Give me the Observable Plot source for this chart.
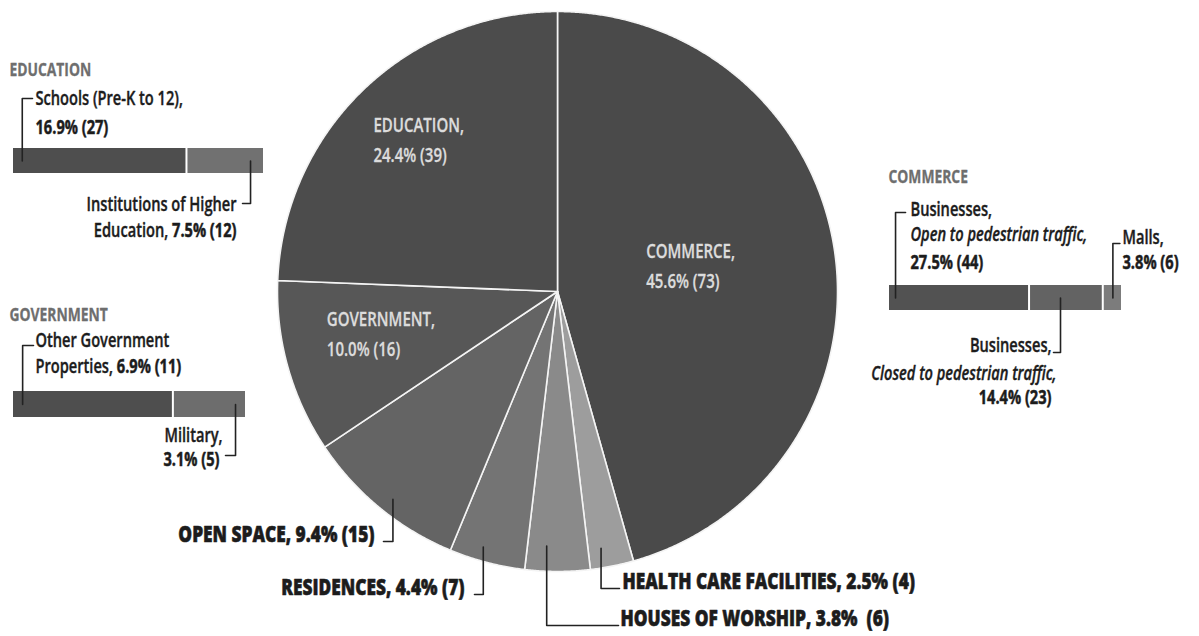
<!DOCTYPE html>
<html><head><meta charset="utf-8">
<script src="https://cdn.jsdelivr.net/npm/d3@7"></script>
<script src="https://cdn.jsdelivr.net/npm/@observablehq/plot@0.6"></script>
<style>
html,body{margin:0;padding:0;background:#fff;}
#chart{width:1199px;height:636px;overflow:hidden;}
</style>
</head><body><div id="chart"></div>
<script>
// ---------- DATA ----------
const sectors = ["COMMERCE","HEALTH CARE FACILITIES","HOUSES OF WORSHIP","RESIDENCES","OPEN SPACE","GOVERNMENT","EDUCATION"];
const sectorCounts = [73, 4, 6, 7, 15, 16, 39];
const sectorPercents = ["45.6%","2.5%","3.8%","4.4%","9.4%","10.0%","24.4%"];

const educationParts = ["Schools (Pre-K to 12),", "Institutions of Higher Education,"];
const educationCounts = [27, 12];
const educationPercents = ["16.9%", "7.5%"];

const governmentParts = ["Other Government Properties,", "Military,"];
const governmentCounts = [11, 5];
const governmentPercents = ["6.9%", "3.1%"];

const commerceParts = ["Businesses, Open to pedestrian traffic,", "Businesses, Closed to pedestrian traffic,", "Malls,"];
const commerceCounts = [44, 23, 6];
const commercePercents = ["27.5%", "14.4%", "3.8%"];

// ---------- STYLE / LAYOUT ----------
const W = 1199, H = 636;
const FONT = '"Open Sans","Noto Sans",sans-serif';
const SX = 0.77;                       // horizontal condensing of all texts
const pie = {cx: 557, cy: 291, r: 280};
const sectorColors = {"COMMERCE":"#4a4a4a","HEALTH CARE FACILITIES":"#9d9d9d","HOUSES OF WORSHIP":"#8a8a8a",
  "RESIDENCES":"#747474","OPEN SPACE":"#646464","GOVERNMENT":"#575757","EDUCATION":"#4c4c4c"};
const innerLabelR = {"COMMERCE":0.48,"GOVERNMENT":0.655,"EDUCATION":0.715};
const ink = "#1c1c1c";
const SUB = 19;

const ctx = document.createElement("canvas").getContext("2d");
function tw(text, size, weight=600, italic=false){
  ctx.font = `${italic?"italic ":""}${weight} ${size}px ${FONT}`;
  return ctx.measureText(text).width * SX;
}

const marks = [];
function label(x, y, text, o = {}){
  const {anchor="start", weight=600, size=SUB, italic=false, fill=ink, halo=0.4} = o;
  marks.push(Plot.text([0], {x: () => x, y: () => y, text: () => text, textAnchor: anchor,
    fontWeight: weight, fontSize: size, fontStyle: italic ? "italic" : "normal", fill,
    fontFamily: FONT, lineAnchor: "middle", stroke: halo ? fill : null, strokeWidth: halo || undefined}));
}
// label with a regular part followed by a bold part
function mixed(x, y, reg, bold, o = {}){
  const size = o.size || SUB, anchor = o.anchor || "start";
  const wr = tw(reg + " ", size), wb = tw(bold, size, 700);
  if (anchor === "start") { label(x, y, reg, {size}); label(x + wr, y, bold, {size, weight:700, halo:0.5}); }
  else { label(x - wb - tw(" ", size), y, reg, {size, anchor:"end"}); label(x, y, bold, {size, weight:700, halo:0.5, anchor:"end"}); }
}
const leaders = [];
function leader(points, id){ points.forEach(([x,y]) => leaders.push({x, y, id})); }

// ---------- PIE ----------
const arcs = d3.pie().sort(null).startAngle(0).endAngle(2*Math.PI)(sectorCounts);
const polar = (a, rr) => [pie.cx + rr*Math.sin(a), pie.cy - rr*Math.cos(a)];
const piePts = [];
arcs.forEach((a, i) => {
  const key = sectors[i], color = sectorColors[key];
  piePts.push({x: pie.cx, y: pie.cy, key, color});
  const n = Math.max(4, Math.ceil((a.endAngle - a.startAngle) / 0.005));
  for (let k = 0; k <= n; k++) {
    const [x, y] = polar(a.startAngle + (a.endAngle - a.startAngle)*k/n, pie.r);
    piePts.push({x, y, key, color});
  }
  piePts.push({x: pie.cx, y: pie.cy, key, color});
});

// inner labels
arcs.forEach((a, i) => {
  const key = sectors[i];
  if (!(key in innerLabelR)) return;
  const mid = (a.startAngle + a.endAngle)/2;
  const [px, py] = polar(mid, pie.r*innerLabelR[key]);
  const l1 = key + ",", l2 = `${sectorPercents[i]} (${sectorCounts[i]})`;
  const x0 = px - tw(l1, 19.5, 600)/2;
  label(x0, py - 15, l1, {size:19.5, fill:"#dcdcdc", halo:0.3});
  label(x0, py + 15, l2, {size:19.5, fill:"#dcdcdc", halo:0.3});
});

// outer labels with leaders: [index, fraction of arc, radius frac, corner y, tick end x, text x, anchor]
const outer = [
  [4, 0.47, 0.947, 541, 383, 374, "end"],
  [3, 0.60, 0.95, 594, 474, 464, "end"],
  [2, 0.68, 0.91, 625, 618, 620, "start"],
  [1, 0.68, 0.93, 588, 619, 622, "start"]
];
outer.forEach(([i, f, rf, cy, tx, lx, anchor]) => {
  const a = arcs[i];
  const [sx, sy] = polar(a.startAngle + f*(a.endAngle - a.startAngle), pie.r*rf);
  leader([[sx, sy], [sx, cy], [tx, cy]], "o" + i);
  const text = `${sectors[i]}, ${sectorPercents[i]}${i===2?"  ":" "}(${sectorCounts[i]})`;
  label(lx, cy, text, {size:22.5, weight:800, anchor, halo:0.6});
});

// ---------- SUB BARS ----------
const barRects = [];
function subBar(parts, counts, colors, x0, width, y1, y2){
  const total = d3.sum(counts);
  let cum = 0;
  return parts.map((p, i) => {
    const r = {x1: x0 + width*cum/total, x2: x0 + width*(cum + counts[i])/total, y1, y2, fill: colors[i]};
    cum += counts[i];
    barRects.push(r);
    return r;
  });
}
const ym = r => (r.y1 + r.y2)/2;
const along = (r, f) => r.x1 + f*(r.x2 - r.x1);
const HEAD = {size:18, weight:700, fill:"#6e6e6e", halo:0.3};
const BOLD = {weight:700, halo:0.5};

// Education
label(9, 75, "EDUCATION", HEAD);
const eb = subBar(educationParts, educationCounts, ["#4e4e4e","#717171"], 12, 252, 148, 173);
leader([[along(eb[0], 0.056), ym(eb[0])], [along(eb[0], 0.056), 98], [32, 98]], "e0");
label(35, 104, educationParts[0]);
label(35, 133, `${educationPercents[0]} (${educationCounts[0]})`, BOLD);
const hx = along(eb[1], 0.82);
leader([[hx, ym(eb[1])], [hx, 203], [hx - 8, 203]], "e1");
label(236, 210, "Institutions of Higher", {anchor:"end"});
mixed(236, 236, "Education,", `${educationPercents[1]} (${educationCounts[1]})`, {anchor:"end"});

// Government
label(9, 320, "GOVERNMENT", HEAD);
const gb = subBar(governmentParts, governmentCounts, ["#4e4e4e","#6d6d6d"], 12, 234, 391, 417);
leader([[along(gb[0], 0.063), ym(gb[0])], [along(gb[0], 0.063), 345], [33, 345]], "g0");
label(35, 346, "Other Government");
mixed(35, 372, "Properties,", `${governmentPercents[0]} (${governmentCounts[0]})`);
const mx = along(gb[1], 0.85);
leader([[mx, ym(gb[1])], [mx, 455], [mx - 10, 455]], "g1");
label(222, 441, governmentParts[1], {anchor:"end"});
label(219, 465, `${governmentPercents[1]} (${governmentCounts[1]})`, {...BOLD, anchor:"end"});

// Commerce
label(888, 182, "COMMERCE", HEAD);
const cb = subBar(commerceParts, commerceCounts, ["#525252","#636363","#7c7c7c"], 888, 234, 285, 310);
const ox = along(cb[0], 0.05);
leader([[ox, ym(cb[0])], [ox, 212], [ox + 10, 212]], "c0");
label(910, 215, "Businesses,");
label(910, 240, "Open to pedestrian traffic,", {italic:true});
label(910, 268, `${commercePercents[0]} (${commerceCounts[0]})`, BOLD);
const clx = along(cb[1], 0.42);
leader([[clx, ym(cb[1])], [clx, 352], [clx - 7, 352]], "c1");
label(1051, 351, "Businesses,", {anchor:"end"});
label(1056, 379, "Closed to pedestrian traffic,", {italic:true, anchor:"end"});
label(1051, 403, `${commercePercents[1]} (${commerceCounts[1]})`, {...BOLD, anchor:"end"});
const mlx = along(cb[2], 0.5);
leader([[mlx, ym(cb[2])], [mlx, 243], [mlx + 7, 243]], "c2");
label(1122, 243, commerceParts[2]);
label(1122, 268, `${commercePercents[2]} (${commerceCounts[2]})`, BOLD);

// ---------- PLOT ----------
const chart = Plot.plot({
  width: W, height: H, margin: 0,
  x: {domain: [0, W], range: [0, W], axis: null},
  y: {domain: [0, H], range: [0, H], axis: null},
  style: {background: "#fff", fontFamily: FONT},
  marks: [
    Plot.line(piePts, {x: "x", y: "y", z: "key", fill: "color", stroke: "#f4f4f4", strokeWidth: 1.6, curve: "linear"}),
    Plot.rect(barRects, {x1: "x1", x2: "x2", y1: "y1", y2: "y2", fill: "fill", insetLeft: 1, insetRight: 1}),
    Plot.line(leaders, {x: "x", y: "y", z: "id", stroke: "#222", strokeWidth: 1.6}),
    ...marks
  ]
});
// condense every text horizontally around its anchor
chart.querySelectorAll("text").forEach(t => {
  let tr = t.getAttribute("transform") || "";
  if (t.hasAttribute("x") || t.hasAttribute("y")) {
    const x = +t.getAttribute("x") || 0, y = +t.getAttribute("y") || 0;
    t.removeAttribute("x"); t.removeAttribute("y");
    tr = `${tr} translate(${x},${y})`;
  }
  t.setAttribute("transform", `${tr} scale(${SX},1)`);
});
document.getElementById("chart").appendChild(chart);
</script>
</body></html>
